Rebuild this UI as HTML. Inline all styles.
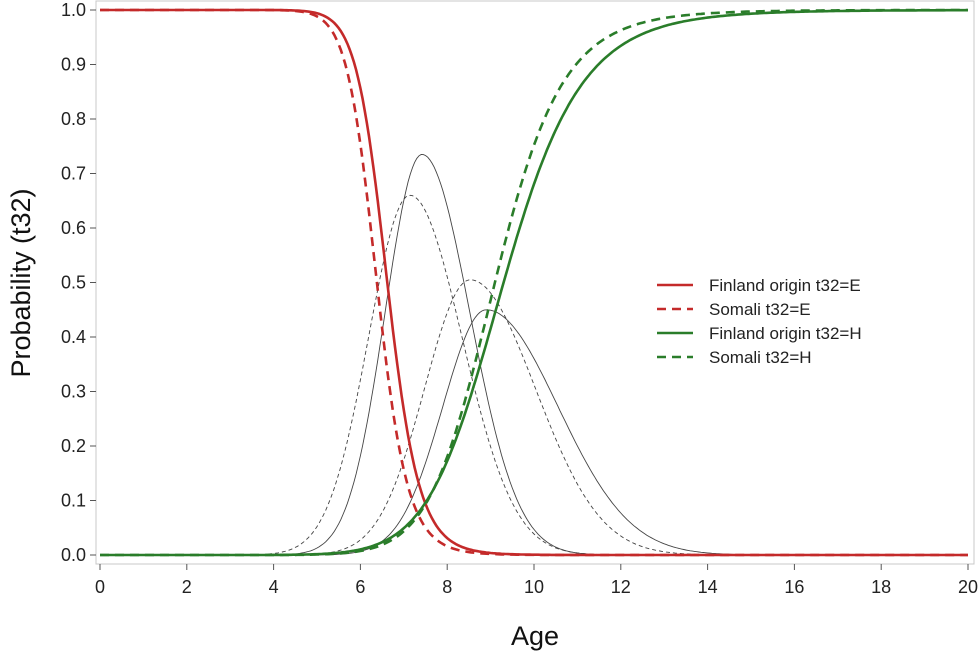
<!DOCTYPE html>
<html><head><meta charset="utf-8"><style>
body{margin:0;background:#fff;}
svg{display:block;font-family:"Liberation Sans",sans-serif;}
</style></head><body>
<svg id="chart" width="980" height="659" viewBox="0 0 980 659">
<rect x="96" y="1" width="878" height="563" fill="none" stroke="#c8c8c8" stroke-width="1"/>
<g id="axes"></g>
<g id="curves"></g>
<text x="535" y="645" font-size="27" text-anchor="middle" fill="#111">Age</text>
<text transform="translate(30,283) rotate(-90)" font-size="27" text-anchor="middle" fill="#111">Probability (t32)</text>
<g font-size="17" fill="#222">
<line x1="657" y1="285" x2="693" y2="285" stroke="#c42a2a" stroke-width="2.5"/>
<text x="709" y="291">Finland origin t32=E</text>
<line x1="657" y1="309" x2="693" y2="309" stroke="#c42a2a" stroke-width="2.5" stroke-dasharray="9,6"/>
<text x="709" y="315">Somali t32=E</text>
<line x1="657" y1="333" x2="693" y2="333" stroke="#2a7d2a" stroke-width="2.5"/>
<text x="709" y="339">Finland origin t32=H</text>
<line x1="657" y1="357" x2="693" y2="357" stroke="#2a7d2a" stroke-width="2.5" stroke-dasharray="9,6"/>
<text x="709" y="363">Somali t32=H</text>
</g>
</svg>
<script>
const xTicks=[0,2,4,6,8,10,12,14,16,18,20];
const yTicks=[0,0.1,0.2,0.3,0.4,0.5,0.6,0.7,0.8,0.9,1.0];
const seriesNames=["finland-e","somali-e","finland-h","somali-h"];
const cdfMid=[6.62,6.38,9.3,9.1];
const cdfLogScale=[0.055,0.055,0.096,0.085];
const cdfDir=[-1,-1,1,1];
const cdfColor=["#c42a2a","#c42a2a","#2a7d2a","#2a7d2a"];
const cdfDash=["","9,6","","9,6"];
const pdfPeak=[0.735,0.66,0.45,0.505];
const pdfMode=[7.42,7.14,8.9,8.53];
const pdfSdL=[0.85,0.95,1.0,1.05];
const pdfSdR=[1.1,1.2,1.65,1.5];
const pdfDash=["","4,3","","4,3"];
const X=a=>100+a*43.4, Y=p=>555-p*545;
const NS="http://www.w3.org/2000/svg";
const ax=document.getElementById('axes'), cv=document.getElementById('curves');
function mk(t,attrs,parent){const e=document.createElementNS(NS,t);for(const k in attrs)e.setAttribute(k,attrs[k]);parent.appendChild(e);return e;}
xTicks.forEach(v=>{
 const l=mk('line',{x1:X(v),x2:X(v),y1:564,y2:570,stroke:'#555'},ax);
 
 
 const t=mk('text',{x:X(v),y:593,'font-size':18,'text-anchor':'middle',fill:'#222'},ax);t.textContent=v;
 
 
});
yTicks.forEach(v=>{
 const l=mk('line',{x1:90,x2:96,y1:Y(v),y2:Y(v),stroke:'#555'},ax);
 
 
 const t=mk('text',{x:86,y:Y(v)+6,'font-size':18,'text-anchor':'end',fill:'#222'},ax);t.textContent=v.toFixed(1);
 
 
});
for(let i=0;i<4;i++){
 let d='';
 for(let a=0;a<=20.001;a+=0.05){
  const m=pdfMode[i], sd=a<m?pdfSdL[i]:pdfSdR[i];
  const p=pdfPeak[i]*Math.exp(-0.5*((a-m)/sd)**2);
  d+=(d?'L':'M')+X(a).toFixed(1)+','+Y(p).toFixed(1);
 }
 const e=mk('path',{d:d,fill:'none',stroke:'#444','stroke-width':0.9},cv);
 if(pdfDash[i])e.setAttribute('stroke-dasharray',pdfDash[i]);
 
 
}
for(let i=0;i<4;i++){
 let d='';
 for(let a=0;a<=20.001;a+=0.05){
  const z=Math.log(Math.max(a,0.01)/cdfMid[i])/cdfLogScale[i];
  const p=1/(1+Math.exp(-cdfDir[i]*z));
  d+=(d?'L':'M')+X(a).toFixed(1)+','+Y(p).toFixed(1);
 }
 const e=mk('path',{d:d,fill:'none',stroke:cdfColor[i],'stroke-width':2.6},cv);
 if(cdfDash[i])e.setAttribute('stroke-dasharray',cdfDash[i]);
 
 
}
</script>
</body></html>
